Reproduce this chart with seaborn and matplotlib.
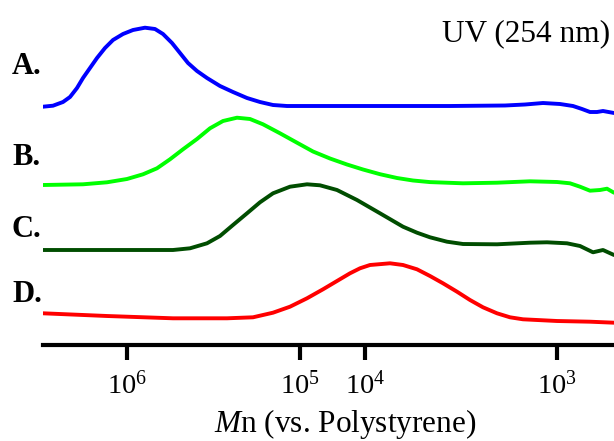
import matplotlib
matplotlib.use('Agg')
import matplotlib.pyplot as plt
import pandas as pd
import seaborn as sns

# GPC traces, UV detector (254 nm). x = elution position, y = detector signal (offset per trace)
elution_a = [43, 53, 63, 70, 77, 83, 90, 97, 105, 113, 123, 133, 145, 155, 163, 172, 180, 188, 197,
             207, 220, 233, 247, 260, 273, 287, 298, 350, 400, 450, 505, 525, 543, 560, 573, 582,
             590, 597, 603, 614]
signal_a = [238.3, 239.3, 243, 248, 257, 267, 277, 287, 297, 305, 311, 315, 317.3, 316, 311, 302, 292, 282, 274,
            267, 259, 253, 247, 243, 240, 239, 239, 239, 239, 239, 239.5, 240.5, 242, 241, 239, 236,
            233, 233, 234, 232]

elution_b = [43, 83, 107, 127, 143, 157, 170, 183, 197, 210, 223, 237, 250, 263, 280, 297, 313, 330,
             347, 363, 380, 397, 413, 430, 463, 497, 530, 557, 570, 580, 590, 600, 607, 614]
signal_b = [160, 160.7, 162.7, 166, 170.7, 176.7, 185.7, 195.7, 206, 216.7, 224, 227.3, 226, 220.7, 211.7,
            202.3, 193.5, 186.5, 180.5, 175.5, 170.8, 167, 164.5, 162.9, 161.7, 162.3, 163.7, 163, 161.7,
            158.3, 154.3, 155, 156.3, 152.3]

elution_c = [43, 107, 173, 190, 207, 220, 233, 247, 260, 273, 290, 307, 320, 337, 357, 380, 403, 417,
             430, 447, 463, 497, 530, 547, 567, 580, 593, 603, 614]
signal_c = [95, 95, 95, 96.7, 101.7, 109, 120, 131.7, 142.7, 151.7, 158.3, 160.7, 159.7, 155, 145, 131.7,
            118.3, 112.3, 107.7, 103.3, 101, 100.7, 102.3, 102.7, 101.7, 99, 92.7, 95, 90]

elution_d = [43, 107, 173, 227, 253, 273, 290, 307, 323, 337, 350, 360, 370, 390, 403, 417, 430, 443,
             457, 470, 483, 497, 510, 523, 557, 590, 614]
signal_d = [31.7, 29, 26.7, 26.7, 27.7, 32.3, 38.3, 46.7, 55.7, 64, 71.7, 76.7, 80, 81.7, 80, 75.7, 69,
            61.7, 53.3, 45, 37.7, 31.7, 27.7, 25.7, 24, 23.3, 22.3]

trace_names = ['A.', 'B.', 'C.', 'D.']
trace_colors = ['#0000ff', '#00ff00', '#004d00', '#ff0000']

# Mn calibration (polystyrene) at elution positions
mn_exponents = [6, 5, 4, 3]
mn_tick_pos = [127, 300, 365, 557]

frames = []
for name, xs, ys in zip(trace_names,
                        [elution_a, elution_b, elution_c, elution_d],
                        [signal_a, signal_b, signal_c, signal_d]):
    frames.append(pd.DataFrame({'elution': xs, 'signal': ys, 'trace': name}))
df = pd.concat(frames, ignore_index=True)

sns.set_style('white')
plt.rcParams['font.family'] = ['Liberation Serif', 'DejaVu Serif']
plt.rcParams['mathtext.fontset'] = 'custom'
plt.rcParams['mathtext.rm'] = 'Liberation Serif'
plt.rcParams['mathtext.it'] = 'Liberation Serif:italic'
plt.rcParams['text.color'] = 'black'

fig = plt.figure(figsize=(6.14, 4.41), dpi=100)
ax = fig.add_axes([43 / 614, 1 - 345 / 441, 1 - 43 / 614, 345 / 441])

sns.lineplot(data=df, x='elution', y='signal', hue='trace', palette=trace_colors,
             estimator=None, sort=False, legend=False, linewidth=2.8, ax=ax)
for line in ax.lines:
    line.set_solid_joinstyle('round')

ax.set_xlim(43, 614)
ax.set_ylim(0, 345)
sns.despine(ax=ax, left=True)
ax.spines['bottom'].set_linewidth(3)
ax.spines['bottom'].set_color('black')
ax.set_yticks([])
ax.set_xticks(mn_tick_pos)
ax.set_xticklabels([f'$10^{{{e}}}$' for e in mn_exponents])
ax.tick_params(axis='x', bottom=True, direction='out', length=11, width=3,
               pad=8, labelsize=20.5, colors='black')
ax.set_xlabel('')
ax.set_ylabel('')

fig.text(345 / 614, 1 - 432 / 441, r'$M$n (vs. Polystyrene)', ha='center', va='baseline', fontsize=22.5)
fig.text(610 / 614, 1 - 41 / 441, 'UV (254 nm)', ha='right', va='baseline', fontsize=22.5)

label_baselines = [74, 165, 237, 302]
for name, row in zip(trace_names, label_baselines):
    fig.text(12 / 614, 1 - row / 441, name, ha='left', va='baseline', fontsize=22, fontweight='bold')

fig.savefig('out.png', dpi=100)
